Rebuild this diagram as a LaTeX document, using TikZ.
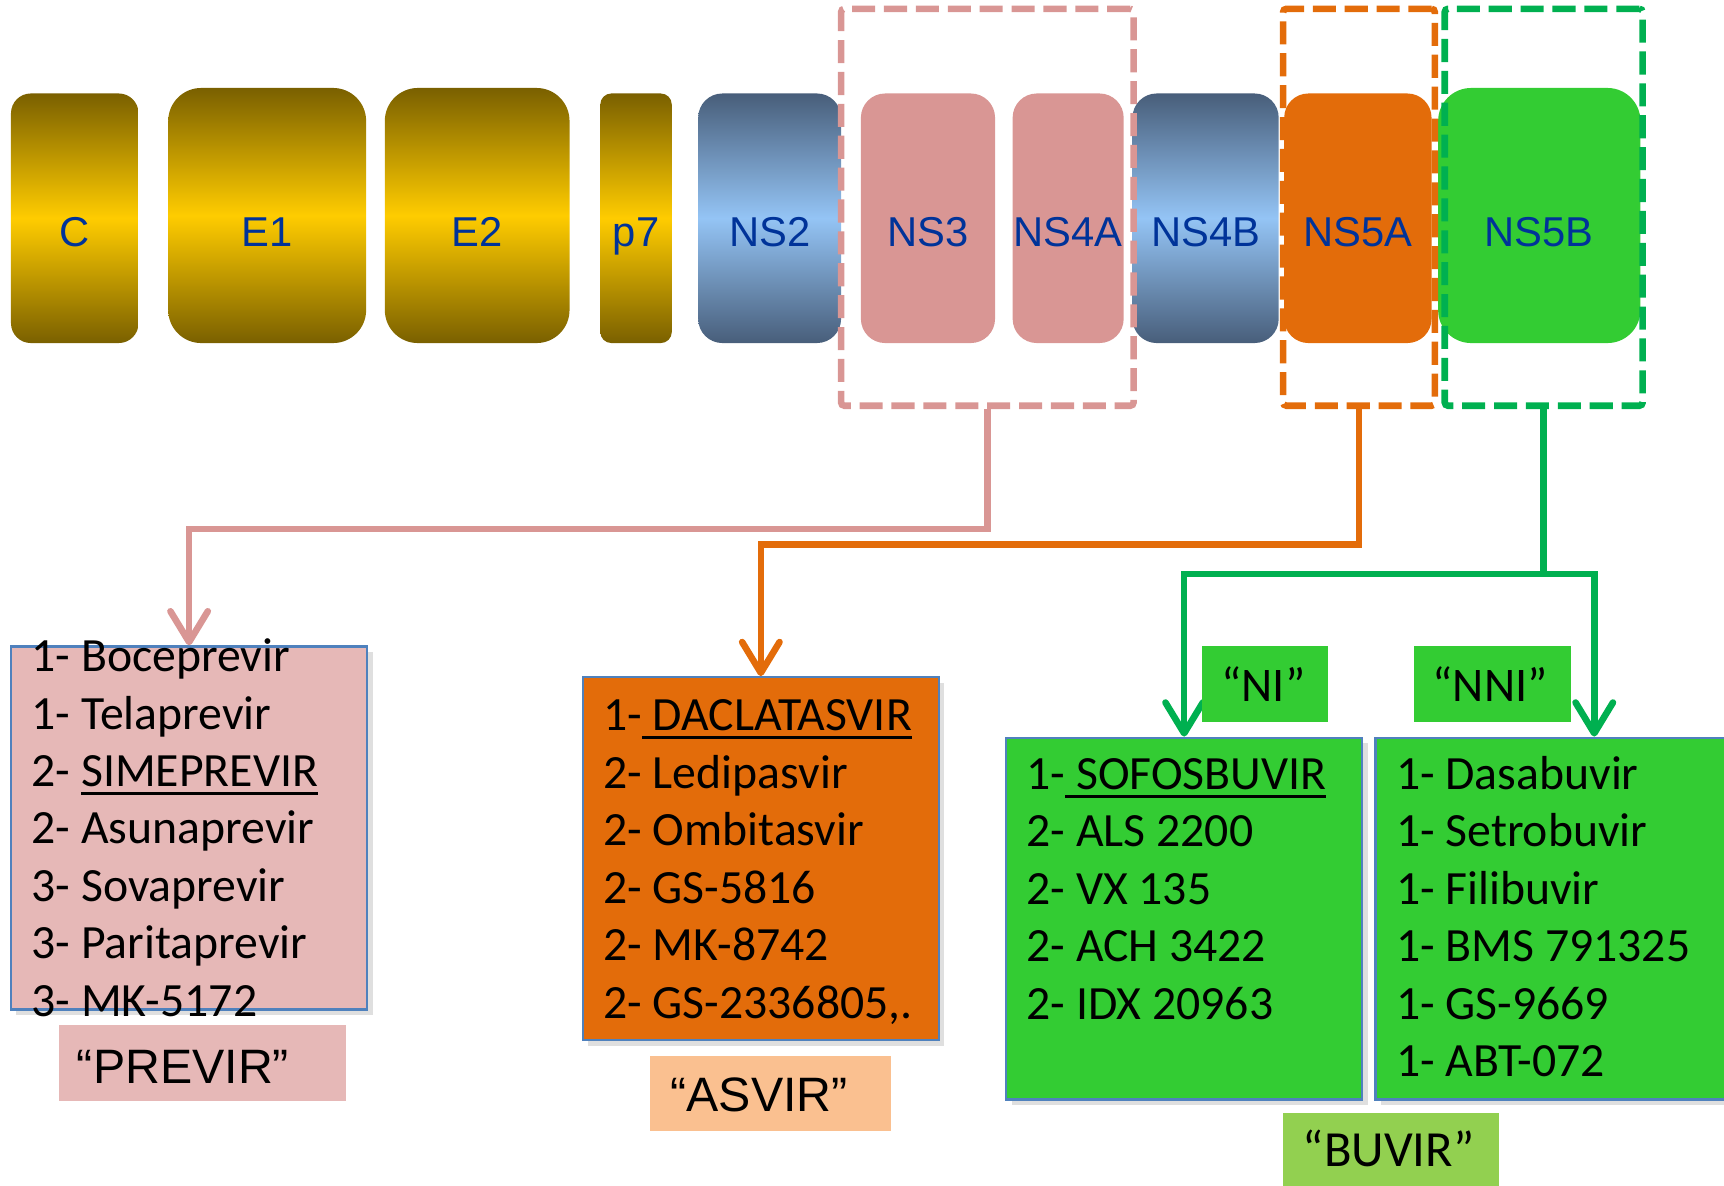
\documentclass[tikz,border=0pt]{standalone}
\usepackage{fontspec}
\setmainfont{Liberation Sans}
\newfontfamily\calibri{Carlito}
\usepackage{xcolor}
\definecolor{genetext}{RGB}{0,51,153}
\definecolor{olivedark}{RGB}{122,96,0}
\definecolor{gold}{RGB}{255,204,0}
\definecolor{slate}{RGB}{72,94,122}
\definecolor{skyblue}{RGB}{148,196,245}
\definecolor{nspink}{RGB}{217,150,148}
\definecolor{nsorange}{RGB}{227,108,10}
\definecolor{nsgreen}{RGB}{51,204,51}
\definecolor{dashgreen}{RGB}{0,176,80}
\definecolor{listborder}{RGB}{79,129,189}
\definecolor{listpink}{RGB}{230,184,183}
\definecolor{tagpeach}{RGB}{250,192,144}
\definecolor{taglime}{RGB}{146,208,80}
\usetikzlibrary{arrows.meta,shadows}

% underline with a thicker rule
\newcommand{\drugmark}[1]{\setbox0\hbox{#1}\rlap{\rule[-0.8mm]{\wd0}{0.3mm}}\box0}

\tikzset{
  gene/.style={rectangle, rounded corners=2.2mm, minimum height=22.7mm, inner sep=0pt,
    text=genetext, font=\fontsize{10.8}{13}\selectfont, text height=5.1mm, text depth=0pt},
  tallgene/.style={gene, minimum height=23.2mm, text height=5.6mm, rounded corners=3mm},
  yellowgene/.style={top color=olivedark, bottom color=olivedark, middle color=gold},
  bluegene/.style={top color=slate, bottom color=slate, middle color=skyblue},
  targetbox/.style={rectangle, draw, line width=0.6mm, dash pattern=on 2.1mm off 0.8mm,
    rounded corners=0.3mm, minimum height=36.1mm, inner sep=0pt},
  drugbox/.style={rectangle, draw=listborder, line width=0.6pt, minimum width=32.4mm,
    minimum height=33mm, inner sep=0pt,
    drop shadow={opacity=0.25, shadow xshift=0.5mm, shadow yshift=-0.5mm}},
  drug/.style={anchor=base west, inner sep=0pt, font=\calibri\fontsize{12.35}{14}\selectfont},
  stemtag/.style={rectangle, align=left, inner ysep=0pt, text depth=0pt, minimum height=6.9mm,
    font=\fontsize{12.5}{15}\selectfont},
  flow/.style={line width=0.6mm, -{Straight Barb[length=2.8mm,width=3.4mm,round]}}
}

\begin{document}
\begin{tikzpicture}[x=0.1mm, y=-0.1mm]
  \useasboundingbox (0,0) rectangle (1568,1078);

  % Genome: structural proteins
  \node[gene, yellowgene, minimum width=11.6mm, rounded corners=1.8mm] (c) at (68,198.5) {C};
  \node[tallgene, yellowgene, minimum width=18mm] (e1) at (243,196) {E1};
  \node[tallgene, yellowgene, minimum width=16.8mm] (e2) at (434,196) {E2};
  \node[gene, yellowgene, minimum width=6.5mm, rounded corners=1mm] (p7) at (578.5,198.5) {p7};
  % Genome: non-structural proteins
  \node[gene, bluegene, minimum width=13mm] (ns2) at (700,198.5) {NS2};
  \node[gene, fill=nspink, minimum width=12.2mm] (ns3) at (844,198.5) {NS3};
  \node[gene, fill=nspink, minimum width=10.1mm] (ns4a) at (971.5,198.5) {NS4A};
  \node[gene, bluegene, minimum width=13.3mm] (ns4b) at (1096.5,198.5) {NS4B};
  \node[gene, fill=nsorange, minimum width=13.4mm] (ns5a) at (1235,198.5) {NS5A};
  \node[tallgene, fill=nsgreen, minimum width=18.4mm] (ns5b) at (1400,196) {NS5B};

  % Drug targets as dashed frames
  \node[targetbox, draw=nspink, minimum width=26.6mm] (pinkgrp) at (898,188.5) {};
  \node[targetbox, draw=nsorange, minimum width=13.8mm] (orangegrp) at (1236,188.5) {};
  \node[targetbox, draw=dashgreen, minimum width=18mm] (greengrp) at (1404,188.5) {};

  % Drug lists
  \node[drugbox, fill=listpink] (previr) at (172,753) {};
  \node[drugbox, fill=nsorange] (asvir) at (692,781) {};
  \node[drugbox, fill=nsgreen, minimum height=32.9mm] (ni) at (1077,835.5) {};
  \node[drugbox, fill=nsgreen, minimum height=32.9mm, minimum width=39.8mm] (nni) at (1450,835.5) {};

  % Connectors from targets to lists
  \draw[flow, nspink] (pinkgrp.south) -- ++(0,109) -| (previr.north);
  \draw[flow, nsorange] (orangegrp.south) -- ++(0,123) -| (asvir.north);
  \draw[line width=0.6mm, dashgreen] (greengrp.south) -- ++(0,150) coordinate (split);
  \draw[flow, dashgreen] (split) -| (ni.north);
  \draw[flow, dashgreen] (split) -| (nni.north);

  % List entries
  \foreach \name [count=\i] in {1- Boceprevir,1- Telaprevir,2- \drugmark{SIMEPREVIR},2- Asunaprevir,3- Sovaprevir,3- Paritaprevir,3- MK-5172}
    \node[drug] (prev\i) at (28,{611+52.2*(\i-1)}) {\name};
  \foreach \name [count=\i] in {1-\drugmark{\ DACLATASVIR},2- Ledipasvir,2- Ombitasvir,2- GS-5816,2- MK-8742,{2- GS-2336805,.}}
    \node[drug] (asv\i) at (548,{664.5+52.3*(\i-1)}) {\name};
  \foreach \name [count=\i] in {1-\drugmark{\ SOFOSBUVIR},2- ALS 2200,2- VX 135,2- ACH 3422,2- IDX 20963}
    \node[drug] (nuc\i) at (933,{718+52.3*(\i-1)}) {\name};
  \foreach \name [count=\i] in {1- Dasabuvir,1- Setrobuvir,1- Filibuvir,1- BMS 791325,1- GS-9669,1- ABT-072}
    \node[drug] (nonnuc\i) at (1269,{718+52.3*(\i-1)}) {\name};

  % Name stems
  \node[stemtag, fill=listpink, inner xsep=1.6mm, text width=22.9mm, text height=3.7mm] (previrtag) at (184.5,966.5) {“PREVIR”};
  \node[stemtag, fill=tagpeach, inner xsep=1.9mm, text width=18.1mm, text height=3.3mm] (asvirtag) at (700.5,994.5) {“ASVIR”};
  \node[stemtag, fill=nsgreen, inner xsep=1.8mm, text width=7.9mm, text height=3.2mm, font=\calibri\fontsize{12.5}{15}\selectfont] (nitag) at (1150.5,622) {“NI”};
  \node[stemtag, fill=nsgreen, inner xsep=1.7mm, text width=10.9mm, text height=3.2mm, font=\calibri\fontsize{12.5}{15}\selectfont] (nnitag) at (1357.5,622) {“NNI”};
  \node[stemtag, fill=taglime, inner xsep=1.8mm, text width=16mm, text height=2.9mm, font=\calibri\fontsize{13.1}{16}\selectfont] (buvirtag) at (1265,1046.5) {“BUVIR”};
\end{tikzpicture}
\end{document}
